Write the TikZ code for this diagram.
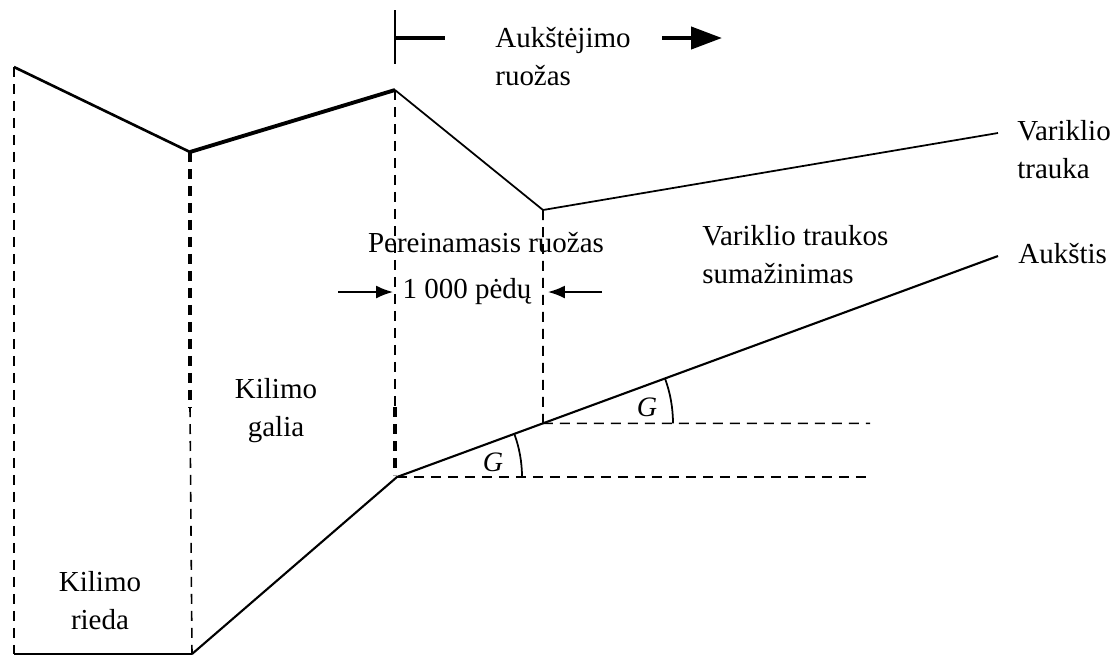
\documentclass[tikz,border=0pt]{standalone}
\usepackage{fontspec}
\setmainfont{Liberation Serif}
\usepackage{tikz}
\usetikzlibrary{arrows.meta,positioning,calc}

\tikzset{
  label/.style={font=\fontsize{16.5}{21.6}\selectfont,inner sep=0pt},
  guide/.style={dash pattern=on 0.2cm off 0.14cm,line width=0.9pt},
  guidethick/.style={dash pattern=on 0.2cm off 0.14cm,line width=2.4pt},
  curve/.style={line width=1.2pt,line join=round},
}

\begin{document}
\begin{tikzpicture}[x=0.02cm,y=-0.02cm]

    \useasboundingbox (0,0) rectangle (1117,657);

    % ── TAŠKAI ─────────────────────────────────────────────
    \coordinate (t0) at (14,67);
    \coordinate (t1) at (190,152);
    \coordinate (t2) at (395,90);
    \coordinate (t3) at (543,210);
    \coordinate (t4) at (998,133);

    \coordinate (b0) at (14,654);
    \coordinate (b1) at (192,654);
    \coordinate (b2) at (397,477);
    \coordinate (b4) at (998,256);
    \coordinate (b3) at ($(b2)!0.2429!(b4)$);

    % ── VARIKLIO TRAUKA ────────────────────────────────────
    \draw[line width=1.5pt,line join=round] (t0) -- (t1);
    \draw[line width=2.2pt,line join=round] (t1) -- (t2);
    \draw[line width=1pt,line join=round] (t2) -- (t3) -- (t4);

    % ── AUKŠTIS ────────────────────────────────────────────
    \draw[line width=1.6pt] (b0) -- (b1);
    \draw[curve] (b1) -- (b2) -- (b4);

    % ── VERTIKALIOS ────────────────────────────────────────
    \draw[guide] (t0) -- (b0);
    \draw[guidethick] (t1) -- (190,407);
    \draw[guide] (190,407) -- (b1);
    \draw[guide] (t2) -- (395,407);
    \draw[guidethick] (395,407) -- (395,475);
    \draw[guide] (t3) -- (b3);

    % ── HORIZONTALIOS IR KAMPAI ────────────────────────────
    \draw[guide] (b2) -- (870,477);
    \draw[guide] (b3) -- (870,{477-146*0.3677});
    \draw[line width=1pt] ($(b2)+(125,0)$) arc[start angle=0,end angle=-20.2,radius=125];
    \draw[line width=1pt] ($(b3)+(130,0)$) arc[start angle=0,end angle=-20.2,radius=130];

    \node[label,font=\fontsize{16}{18}\selectfont\itshape] (g1) at (493,462) {G};
    \node[label,font=\fontsize{16}{18}\selectfont\itshape] (g2) at (647,407) {G};

    % ── AUKŠTĖJIMO RUOŽAS ──────────────────────────────────
    \draw[line width=1pt] (395,10) -- (395,64);
    \draw[line width=2pt] (395,38) -- (445,38);
    \node[label,align=left,anchor=west] (climb) at (495,57) {Aukštėjimo\\ruožas};
    \coordinate (climbA) at (662,38);
    \coordinate (climbB) at (722,38);
    \draw[-{Triangle[length=0.62cm,width=0.44cm]},line width=2.4pt] (climbA) -- (climbB);

    % ── PEREINAMASIS RUOŽAS ────────────────────────────────
    \node[label] (trans) at (486,243) {Pereinamasis ruožas};
    \node[label] (dist) at (467,292) {1 000 pėdų};
    \coordinate (arrL) at (338,292);
    \coordinate (arrR) at (602,292);
    \draw[-{Latex[length=0.34cm,width=0.26cm]},line width=1pt] (arrL) -- (393,292);
    \draw[-{Latex[length=0.34cm,width=0.26cm]},line width=1pt] (arrR) -- (548,292);

    % ── KITI UŽRAŠAI ───────────────────────────────────────
    \node[label,align=left,anchor=west] (cut) at (702,255) {Variklio traukos\\sumažinimas};
    \node[label,align=left,anchor=west] (thrust) at (1017,150) {Variklio\\trauka};
    \node[label,anchor=west] (alt) at (1018,254) {Aukštis};
    \node[label,align=center] (power) at (276,411) {Kilimo\\galia};
    \node[label,align=center] (roll) at (100,601) {Kilimo\\rieda};

  \end{tikzpicture}
\end{document}
